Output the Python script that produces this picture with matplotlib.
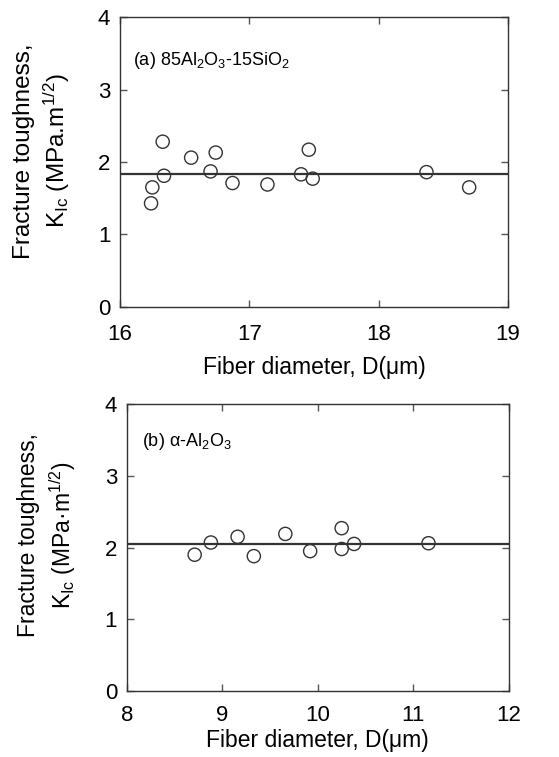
import matplotlib
matplotlib.use('Agg')
import matplotlib.pyplot as plt

plt.rcParams['font.family'] = ['Liberation Sans', 'DejaVu Sans']
plt.rcParams['mathtext.fontset'] = 'custom'
plt.rcParams['mathtext.rm'] = 'Liberation Sans'
plt.rcParams['mathtext.it'] = 'Liberation Sans:italic'
plt.rcParams['mathtext.bf'] = 'Liberation Sans:bold'

# (a) 85Al2O3-15SiO2
d_a = [16.24, 16.25, 16.33, 16.34, 16.55, 16.70, 16.74, 16.87, 17.14, 17.40, 17.46, 17.49, 18.37, 18.70]
k_a = [1.43, 1.65, 2.28, 1.81, 2.06, 1.87, 2.13, 1.71, 1.69, 1.83, 2.17, 1.77, 1.86, 1.65]
mean_a = 1.84

# (b) alpha-Al2O3
d_b = [8.71, 8.88, 9.16, 9.33, 9.66, 9.92, 10.25, 10.25, 10.38, 11.16]
k_b = [1.90, 2.07, 2.15, 1.88, 2.19, 1.95, 2.27, 1.98, 2.05, 2.06]
mean_b = 2.05

fig = plt.figure(figsize=(5.59, 7.57), dpi=100)
ax1 = fig.add_axes([0.2147, 0.5945, 0.694, 0.383])
ax2 = fig.add_axes([0.227, 0.0872, 0.683, 0.379])


def style(ax, xlim, xticks, ylab, label, lx, ly, xpad, xlpad, ycoords, ysize):
    ax.set_xlim(*xlim)
    ax.set_ylim(0, 4)
    ax.set_xticks(xticks)
    ax.set_yticks([0, 1, 2, 3, 4])
    ax.tick_params(direction='in', top=True, right=True, length=5, width=1,
                   labelsize=16, color='#555555')
    ax.tick_params(axis='x', pad=xpad)
    ax.tick_params(axis='y', pad=7)
    for s in ax.spines.values():
        s.set_linewidth(1.0)
        s.set_color('#333333')
    ax.set_xlabel('Fiber diameter, D(μm)', fontsize=16.5, labelpad=xlpad)
    ax.set_ylabel(ylab, fontsize=ysize, linespacing=1.3)
    ax.yaxis.set_label_coords(*ycoords)
    ax.text(lx, ly, label, transform=ax.transAxes, fontsize=13, va='center')


ax1.scatter(d_a, k_a, s=90, facecolors='none', edgecolors='#333333', linewidths=1.0, zorder=3)
ax1.axhline(mean_a, color='#333333', lw=1.6)
style(ax1, (16, 19), [16, 17, 18, 19],
      'Fracture toughness,\nK$_{\\mathrm{Ic}}$ (MPa.m$^{\\mathrm{1/2}}$)',
      '(a) 85Al$_{\\mathrm{2}}$O$_{\\mathrm{3}}$-15SiO$_{\\mathrm{2}}$', 0.034, 0.85,
      12, 8, (-0.124, 0.538), 17.5)

ax2.scatter(d_b, k_b, s=90, facecolors='none', edgecolors='#333333', linewidths=1.0, zorder=3)
ax2.axhline(mean_b, color='#333333', lw=1.6)
style(ax2, (8, 12), [8, 9, 10, 11, 12],
      'Fracture toughness,\nK$_{\\mathrm{Ic}}$ (MPa·m$^{\\mathrm{1/2}}$)',
      '(b) α-Al$_{\\mathrm{2}}$O$_{\\mathrm{3}}$', 0.04, 0.87,
      10, 2, (-0.128, 0.544), 16.5)

fig.savefig('out.png', dpi=100)
